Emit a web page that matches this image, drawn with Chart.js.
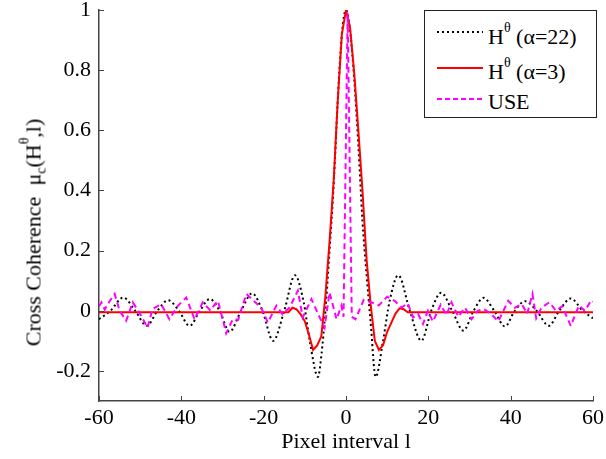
<!DOCTYPE html>
<html>
<head>
<meta charset="utf-8">
<script src="https://cdn.jsdelivr.net/npm/chart.js@4"></script>
<style>
  body { margin: 0; background: #fff; }
  #wrap { position: relative; width: 606px; height: 459px; font-family: "Liberation Serif", "Times New Roman", serif; color: #000; }
  #yTitle { position: absolute; left: -125px; top: 218px; width: 320px; text-align: center; font-size: 22px; line-height: 26px; transform: rotate(-90deg); white-space: nowrap; }
  .up { position: relative; top: -12px; font-size: 14px; }
  .down { position: relative; top: 5px; font-size: 14px; }
  #legend { position: absolute; left: 424px; top: 10px; width: 171px; height: 106px; border: 1px solid #222; background: #fff; }
  #legend svg { position: absolute; left: 12px; }
  #legend .txt { position: absolute; left: 63px; font-size: 22px; line-height: 22px; white-space: nowrap; }
</style>
</head>
<body>
<div id="wrap">
  <canvas id="coh" width="606" height="459"></canvas>
  <div id="yTitle">Cross Coherence &nbsp;μ<span class="down">c</span>(H<span class="up">θ</span>,l)</div>
  <div id="legend">
    <svg width="46" height="6" style="top:18px"><line x1="0" y1="3" x2="46" y2="3" stroke="#000" stroke-width="2" stroke-dasharray="2,3"/></svg>
    <div class="txt" style="top:15px">H<span class="up">θ</span> (α=22)</div>
    <svg width="46" height="6" style="top:54px"><line x1="0" y1="3" x2="46" y2="3" stroke="#ff0000" stroke-width="2"/></svg>
    <div class="txt" style="top:50px">H<span class="up">θ</span> (α=3)</div>
    <svg width="46" height="6" style="top:85px"><line x1="0" y1="3" x2="46" y2="3" stroke="#ff00ff" stroke-width="2" stroke-dasharray="5,3"/></svg>
    <div class="txt" style="top:80px">USE</div>
  </div>
</div>
<script>
// tick labels
const xTicks = [-60, -40, -20, 0, 20, 40, 60];
const yTicks = [-0.2, 0, 0.2, 0.4, 0.6, 0.8, 1];

// H theta, alpha = 22 (black dotted), read at extrema / crossings
const h22L = [-60, -57.2, -54.1, -51.2, -48.4, -45.8, -43.2, -40.6, -38, -35.5, -33.1, -30.7, -28.3, -25.5, -22.8, -20.3, -17.7, -15, -12.4, -10.3, -8.8, -6.8, -6, -5, -4, -3, -2, -1, 0,
  1, 2, 3, 4, 5, 6, 7.2, 9, 10.6, 12.7, 15.5, 18.3, 20.7, 23.1, 25.8, 28.5, 31, 33.4, 36, 38.6, 41, 43.5, 46.3, 49.3, 51.8, 54.6, 57.5, 60];
const h22Mu = [-0.028, 0, 0.044, 0, -0.05, 0, 0.035, 0, -0.05, 0, 0.039, 0, -0.07, 0, 0.058, 0, -0.1, 0, 0.118, 0.03, -0.1, -0.22, -0.15, 0, 0.2, 0.42, 0.7, 0.92, 1,
  0.93, 0.77, 0.55, 0.3, 0.12, -0.04, -0.22, -0.1, 0.033, 0.118, 0, -0.1, 0, 0.06, 0, -0.066, 0, 0.043, 0, -0.052, 0, 0.032, 0, -0.05, 0, 0.041, 0, -0.025];

// H theta, alpha = 3 (red)
const h3L = [-60, -14, -13, -12, -11, -10, -9, -8, -7, -6, -5, -4, -3, -2, -1, 0, 1, 2, 3, 4, 5, 6, 7, 8, 9, 10, 11, 12, 13, 14, 15, 60];
const h3Mu = [-0.005, -0.005, 0.01, 0.005, -0.012, -0.035, -0.08, -0.13, -0.115, -0.085, 0.05, 0.23, 0.43, 0.7, 0.92, 1,
  0.94, 0.79, 0.6, 0.4, 0.17, 0.02, -0.1, -0.13, -0.115, -0.07, -0.04, -0.01, 0.008, 0.005, -0.005, -0.005];

// USE (magenta dashed)
const useL = [-60, -59.4, -58.6, -57.5, -56.2, -55, -53.4, -51.8, -50.2, -48.2, -47, -44.9, -42.9, -40.8, -38.8, -36.8, -34.8, -33, -31.1, -29.1, -27.5, -26.2, -24.2, -22.6, -20.6, -19, -16.9, -15.4, -13.7, -11.7, -10.5, -8.4, -6.4, -5.2, -4, -2.3, -1.1, -0.6, 0.4, 1.4,
  2.3, 4.3, 6.2, 8, 10, 11.8, 13.5, 15, 16.3, 17.5, 18.7, 19.9, 21.1, 23, 24.4, 25.6, 27.3, 28.9, 30.5, 32, 33.4, 35.2, 37, 39.4, 41, 42.7, 44, 45.3, 46.2, 47.5, 49.4, 51, 52.5, 54.6, 56.6, 58, 59.6, 60];
const useMu = [0.015, 0.028, 0.004, 0.03, 0.056, 0, -0.033, 0.028, -0.006, -0.056, 0.006, 0.022, -0.028, 0.017, 0.044, -0.028, 0.028, 0.002, 0.033, -0.075, -0.028, -0.03, 0.056, 0.035, 0.011, -0.039, 0.017, -0.012, 0.011, 0.067, -0.022, 0.039, -0.022, -0.056, 0.061, -0.028, 0.017, -0.02, 0.99, -0.02,
  -0.028, 0.036, 0.028, 0.018, 0.047, 0.033, 0.011, 0.025, -0.022, -0.011, -0.044, 0, -0.036, 0.02, -0.015, 0.028, -0.02, 0.011, -0.028, 0, 0.006, -0.01, -0.035, 0.033, 0.01, 0.022, -0.01, 0.056, -0.025, 0.011, 0.028, 0, 0.015, -0.05, 0.018, 0, 0.035, 0.03];

const pts = (xs, ys) => xs.map((x, i) => ({ x: x, y: ys[i] }));

// MATLAB style inward ticks
const inwardTicks = {
  id: 'inwardTicks',
  afterDraw(chart) {
    const { ctx, chartArea, scales: { x, y } } = chart;
    ctx.save();
    ctx.strokeStyle = '#444';
    ctx.lineWidth = 1;
    ctx.beginPath();
    x.ticks.forEach((t, i) => {
      const px = Math.round(x.getPixelForTick(i)) + 0.5;
      ctx.moveTo(px, chartArea.bottom);
      ctx.lineTo(px, chartArea.bottom - 5);
    });
    y.ticks.forEach((t, i) => {
      const py = Math.round(y.getPixelForTick(i)) + 0.5;
      ctx.moveTo(chartArea.left, py);
      ctx.lineTo(chartArea.left + 5, py);
    });
    ctx.stroke();
    ctx.restore();
  }
};

const tickFont = { family: "'Liberation Serif', 'Times New Roman', serif", size: 22 };

new Chart(document.getElementById('coh'), {
  type: 'line',
  data: {
    datasets: [
      {
        label: 'H\u03b8 (\u03b1=22)',
        data: pts(h22L, h22Mu),
        borderColor: '#000',
        borderWidth: 2,
        borderDash: [2, 3],
        cubicInterpolationMode: 'monotone',
        pointRadius: 0,
        order: 3
      },
      {
        label: 'H\u03b8 (\u03b1=3)',
        data: pts(h3L, h3Mu),
        borderColor: '#ff0000',
        borderWidth: 2,
        tension: 0,
        pointRadius: 0,
        order: 2
      },
      {
        label: 'USE',
        data: pts(useL, useMu),
        borderColor: '#ff00ff',
        borderWidth: 2,
        borderDash: [6, 4],
        tension: 0,
        pointRadius: 0,
        order: 1
      }
    ]
  },
  options: {
    responsive: false,
    animation: false,
    layout: { padding: { top: 10, right: 13, bottom: 0, left: 0 } },
    plugins: { legend: { display: false }, tooltip: { enabled: false } },
    scales: {
      x: {
        type: 'linear',
        min: -60,
        max: 60,
        grid: { display: false, drawTicks: false },
        border: { display: true, color: '#444', width: 1.5 },
        ticks: { color: '#000', font: tickFont, padding: 4, maxRotation: 0 },
        afterBuildTicks: s => { s.ticks = xTicks.map(v => ({ value: v })); },
        afterFit: s => { s.height = 58; s.paddingLeft = 0; s.paddingRight = 0; },
        title: { display: true, text: 'Pixel interval l', color: '#000', font: tickFont, padding: { top: 0, bottom: 4 } }
      },
      y: {
        min: -0.3,
        max: 1,
        grid: { display: false, drawTicks: false },
        border: { display: true, color: '#444', width: 1.5 },
        ticks: { color: '#000', font: tickFont, padding: 8, callback: v => String(Math.round(v * 10) / 10) },
        afterBuildTicks: s => { s.ticks = yTicks.map(v => ({ value: v })); },
        afterFit: s => { s.width = 99; s.paddingTop = 0; s.paddingBottom = 0; }
      }
    }
  },
  plugins: [inwardTicks]
});
</script>
</body>
</html>
